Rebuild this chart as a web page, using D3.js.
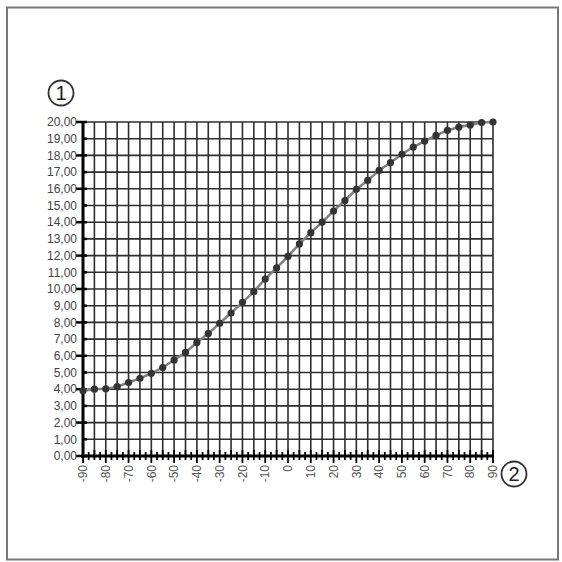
<!DOCTYPE html>
<meta charset="utf-8">
<style>
body { margin: 0; background: #fff; }
.lbl { font-family: "Liberation Sans", Arial, sans-serif; font-size: 12px; fill: #444; }
</style>
<script src="https://cdn.jsdelivr.net/npm/d3@7"></script>
<div id="chart"></div>
<script>
// angles (deg) and measured values
var angles = [-90,-85,-80,-75,-70,-65,-60,-55,-50,-45,-40,-35,-30,-25,-20,-15,-10,-5,0,
              5,10,15,20,25,30,35,40,45,50,55,60,65,70,75,80,85,90];
var values = [3.9,4.0,4.02,4.15,4.4,4.65,4.95,5.3,5.75,6.2,6.8,7.33,7.95,8.56,9.2,9.84,10.6,11.26,11.95,
              12.7,13.37,14.0,14.67,15.3,15.97,16.5,17.1,17.57,18.07,18.5,18.86,19.2,19.5,19.7,19.82,19.97,20.0];
var xTickLabels = [-90,-80,-70,-60,-50,-40,-30,-20,-10,0,10,20,30,40,50,60,70,80,90];
var yTickLabels = d3.range(0, 21);

var W = 562, H = 562;
var svg = d3.select("#chart").append("svg")
    .attr("width", W).attr("height", H);

// outer frame
svg.append("rect")
    .attr("x", 7).attr("y", 7.5)
    .attr("width", 551).attr("height", 552)
    .attr("fill", "none").attr("stroke", "#777").attr("stroke-width", 2);

var x = d3.scaleLinear().domain([-90, 90]).range([83, 493]);
var y = d3.scaleLinear().domain([0, 20]).range([456, 122]);

// grid
svg.append("g").selectAll("line")
    .data(d3.range(-90, 91, 5))
    .enter().append("line")
    .attr("x1", function(d) { return x(d); }).attr("x2", function(d) { return x(d); })
    .attr("y1", y(20)).attr("y2", y(0))
    .attr("stroke", "#2e2e2e").attr("stroke-width", 1.6);

svg.append("g").selectAll("line")
    .data(yTickLabels)
    .enter().append("line")
    .attr("x1", x(-90)).attr("x2", x(90))
    .attr("y1", function(d) { return y(d); }).attr("y2", function(d) { return y(d); })
    .attr("stroke", "#2e2e2e").attr("stroke-width", 1.6);

// y axis
var yAxis = svg.append("g");
yAxis.append("line")
    .attr("x1", x(-90)).attr("x2", x(-90)).attr("y1", y(20) - 1).attr("y2", y(0) + 2)
    .attr("stroke", "#000").attr("stroke-width", 3);
yAxis.selectAll(".yt")
    .data(yTickLabels)
    .enter().append("line")
    .attr("x1", function(d) { return d % 2 === 0 ? x(-90) - 7 : x(-90); })
    .attr("x2", function(d) { return x(-90) + 4; })
    .attr("y1", function(d) { return y(d); }).attr("y2", function(d) { return y(d); })
    .attr("stroke", "#000").attr("stroke-width", 2.5);
yAxis.selectAll("text")
    .data(yTickLabels)
    .enter().append("text")
    .attr("class", "lbl")
    .attr("x", x(-90) - 6)
    .attr("y", function(d) { return y(d); })
    .attr("dy", "0.35em")
    .attr("text-anchor", "end")
    .text(function(d) { return d3.format(".2f")(d).replace(".", ","); });

// x axis
var xAxis = svg.append("g");
xAxis.append("line")
    .attr("x1", x(-90) - 2).attr("x2", x(90) + 1).attr("y1", y(0)).attr("y2", y(0))
    .attr("stroke", "#000").attr("stroke-width", 3);
xAxis.selectAll(".xt")
    .data(d3.range(-90, 90.1, 2.5))
    .enter().append("line")
    .attr("x1", function(d) { return x(d); }).attr("x2", function(d) { return x(d); })
    .attr("y1", function(d) { return y(0) - (d % 5 === 0 ? 6 : 4); })
    .attr("y2", function(d) { return y(0) + (d % 10 === 0 ? 7 : 4); })
    .attr("stroke", "#000").attr("stroke-width", 1.8);
xAxis.selectAll("text")
    .data(xTickLabels)
    .enter().append("text")
    .attr("class", "lbl")
    .style("fill", "#555")
    .attr("transform", function(d) { return "translate(" + x(d) + "," + (y(0) + 9) + ") rotate(-90)"; })
    .attr("dy", "0.35em")
    .attr("text-anchor", "end")
    .text(function(d) { return d; });

// curve
var pts = angles.map(function(a, i) { return [a, values[i]]; });
svg.append("path")
    .datum(pts)
    .attr("fill", "none")
    .attr("stroke", "#808080")
    .attr("stroke-width", 2.5)
    .attr("d", d3.line().x(function(d) { return x(d[0]); }).y(function(d) { return y(d[1]); }));
svg.append("g").selectAll("circle")
    .data(pts)
    .enter().append("circle")
    .attr("cx", function(d) { return x(d[0]); })
    .attr("cy", function(d) { return y(d[1]); })
    .attr("r", 3.6)
    .attr("fill", "#333");

// circled markers
var marks = [{t: "1", cx: 61, cy: 93}, {t: "2", cx: 514, cy: 474}];
var mk = svg.append("g").selectAll("g").data(marks).enter().append("g")
    .attr("transform", function(d) { return "translate(" + d.cx + "," + d.cy + ")"; });
mk.append("circle").attr("r", 12.5).attr("fill", "#fff").attr("stroke", "#333").attr("stroke-width", 1.8);
mk.append("text")
    .attr("text-anchor", "middle").attr("dy", "0.36em")
    .style("font-family", "Liberation Sans, Arial, sans-serif").style("font-size", "20px").style("fill", "#222")
    .text(function(d) { return d.t; });
</script>
